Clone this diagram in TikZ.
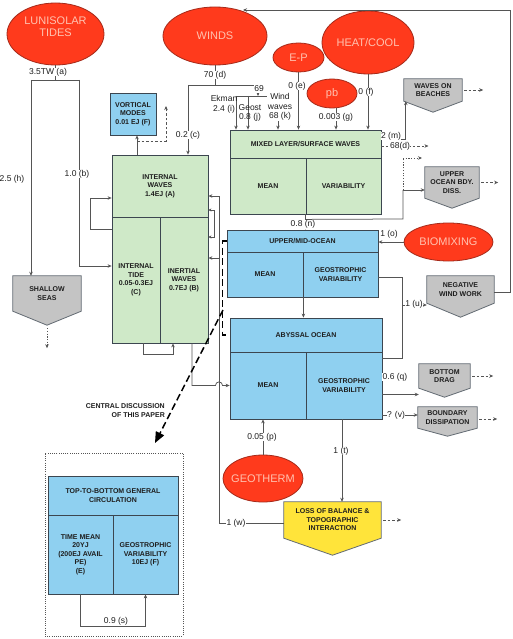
\documentclass[tikz,border=0pt]{standalone}
\usepackage{fontspec}
\setmainfont{Liberation Sans}
\usetikzlibrary{shapes.geometric,arrows.meta,backgrounds,calc}
\definecolor{redfill}{HTML}{FF3A1C}
\definecolor{redline}{HTML}{A52A1A}
\definecolor{redtext}{HTML}{FFC2B0}
\definecolor{greenfill}{HTML}{CFE9C8}
\definecolor{bluefill}{HTML}{8FD0F0}
\definecolor{grayfill}{HTML}{C4C4C4}
\definecolor{yellowfill}{HTML}{FFE43A}
\definecolor{boxline}{HTML}{3C4650}
\definecolor{lc}{HTML}{555555}
\definecolor{tc}{HTML}{1E1E1E}
\newcommand\lblfont{\fontsize{8.5}{9.5}\selectfont}
\newcommand\boxfont{\fontsize{7}{8.5}\selectfont\bfseries}
\newcommand\ellfont{\fontsize{11}{12}\selectfont}
\begin{document}
\begin{tikzpicture}[x=1pt,y=-1pt,
 sz/.style 2 args={minimum width=#1pt, minimum height=#2pt},
 conn/.style={draw=lc, line width=0.75pt},
 arr/.style={conn, -{Stealth[length=4pt,width=3.5pt]}},
 dasharr/.style={draw=lc, line width=0.75pt, dash pattern=on 2.5pt off 2pt, -{Stealth[length=4pt,width=3.5pt]}},
 dotarr/.style={draw=lc, line width=0.75pt, dash pattern=on 1.2pt off 1.5pt, -{Stealth[length=4pt,width=3.5pt]}},
 dotline/.style={draw=lc, line width=0.75pt, dash pattern=on 1.2pt off 1.5pt},
 thickdash/.style={draw=black, line width=1.5pt, dash pattern=on 7pt off 3.5pt},
 lbl/.style={font=\lblfont, text=tc, inner sep=0.5pt, align=center},
 lblw/.style={lbl, fill=white},
 redell/.style={ellipse, draw=redline, fill=redfill, line width=0.8pt, inner sep=0},
 elltext/.style={text=redtext, font=\ellfont, align=center, inner sep=0},
 gbox/.style={rectangle, draw=boxline, fill=greenfill, line width=0.8pt, inner sep=0, font=\boxfont, text=tc, align=center},
 bbox/.style={gbox, fill=bluefill},
 pent/.style={rectangle, inner sep=0, font=\boxfont, text=tc, align=center},
 pentline/.style={draw=boxline!80, line width=0.8pt}
]
\useasboundingbox (0,0) rectangle (513,639);

% ---------- ellipses ----------
\node[redell, sz={97}{62}] (tides) at (55.5,34) {};
\node[elltext] (tidest) at (55.5,27) {LUNISOLAR\\TIDES};
\node[redell, sz={104}{58}] (winds) at (215,36) {};
\node[elltext] (windst) at (winds.center) {WINDS};
\node[redell, sz={51}{29}] (ep) at (298.5,57.5) {};
\node[elltext] (ept) at (ep.center) {E-P};
\node[redell, sz={92}{63}] (heat) at (368,42.5) {};
\node[elltext] (heatt) at (heat.center) {HEAT/COOL};
\node[redell, sz={50}{29}] (pb) at (332,93.5) {};
\node[elltext] (pbt) at (pb.center) {pb};
\node[redell, sz={89}{38}] (biomix) at (448.5,242) {};
\node[elltext] (biomixt) at (biomix.center) {BIOMIXING};
\node[redell, sz={80}{47}] (geo) at (263,478.5) {};
\node[elltext] (geot) at (geo.center) {GEOTHERM};

% ---------- boxes ----------
\node[bbox, sz={46}{42}] (vort) at (133,114) {VORTICAL\\MODES\\0.01 EJ (F)};

\node[gbox, sz={96}{62}] (iwh) at (160,186) {INTERNAL\\WAVES\\1.4EJ (A)};
\node[gbox, sz={48}{126}] (itide) at (136,280) {INTERNAL\\TIDE\\0.05-0.3EJ\\(C)};
\node[gbox, sz={48}{126}] (iner) at (184,280) {INERTIAL\\WAVES\\0.7EJ (B)};

\node[gbox, sz={151}{28}] (mlh) at (305.5,144) {MIXED LAYER/SURFACE WAVES};
\node[gbox, sz={76}{56}] (mll) at (268,186) {MEAN};
\node[gbox, sz={75}{56}] (mlr) at (343.5,186) {VARIABILITY};

\node[bbox, sz={151}{22}] (umh) at (302.5,241) {UPPER/MID-OCEAN};
\node[bbox, sz={76}{45}] (uml) at (265,274.5) {MEAN};
\node[bbox, sz={75}{45}] (umr) at (340.5,274.5) {GEOSTROPHIC\\VARIABILITY};

\node[bbox, sz={152}{34}] (abh) at (306,335) {ABYSSAL OCEAN};
\node[bbox, sz={76}{67}] (abl) at (268,385.5) {MEAN};
\node[bbox, sz={76}{67}] (abr) at (344,385.5) {GEOSTROPHIC\\VARIABILITY};

\node[draw=lc, line width=0.6pt, dash pattern=on 1pt off 1.2pt, sz={138}{183}] (focus) at (114,544.5) {};
\node[bbox, sz={130}{39}] (tth) at (113,495.5) {TOP-TO-BOTTOM GENERAL\\CIRCULATION};
\node[bbox, sz={65}{79}] (ttl) at (80.5,554.5) {TIME MEAN\\20YJ\\(200EJ AVAIL\\PE)\\(E)};
\node[bbox, sz={65}{79}] (ttr) at (145.5,554.5) {GEOSTROPHIC\\VARIABILITY\\10EJ (F)};

% ---------- pentagons ----------
\node[pent, sz={68}{35}] (shallow) at (47,293.5) {SHALLOW\\SEAS};
\node[pent, sz={58}{22}] (wob) at (433,90) {WAVES ON\\BEACHES};
\node[pent, sz={54}{31}] (uobd) at (452,182.5) {UPPER\\OCEAN BDY.\\DISS.};
\node[pent, sz={67}{27}] (nww) at (460.5,289.5) {NEGATIVE\\WIND WORK};
\node[pent, sz={51}{24}] (bdrag) at (444.5,376) {BOTTOM\\DRAG};
\node[pent, sz={59}{21}] (bdiss) at (447.5,417.5) {BOUNDARY\\DISSIPATION};
\node[pent, sz={97}{36}] (loss) at (332.5,520) {LOSS OF BALANCE \&\\TOPOGRAPHIC\\INTERACTION};

\begin{scope}[on background layer]
\fill[white] (0,0) rectangle (513,639);
\foreach \nm/\dd in {shallow/14,wob/11,uobd/10,nww/14,bdrag/9,bdiss/8}
  \draw[pentline, fill=grayfill] (\nm.north west) -- (\nm.north east) -- (\nm.south east) -- ([yshift=-\dd pt]\nm.south) -- (\nm.south west) -- cycle;
\draw[pentline, fill=yellowfill] (loss.north west) -- (loss.north east) -- (loss.south east) -- ([yshift=-17pt]loss.south) -- (loss.south west) -- cycle;
\end{scope}

% ---------- connectors ----------
% tides
\coordinate (ta) at (55.5,80);
\coordinate (tl) at (31,80);
\coordinate (tr) at (79,80);
\draw[conn] (tides) -- (ta);
\draw[conn] (tl) -- (tr);
\draw[arr] (tl) -- (tl |- shallow.north);
\draw[arr] (tr) |- ([yshift=14pt]itide.west);
\draw[dotarr] ([yshift=-17pt]shallow.south) -- ++(0,20);

% winds
\coordinate (wd) at (215,85);
\coordinate (wl) at (188,85);
\coordinate (wr) at (258,85);
\coordinate (wsplit) at (258,96);
\coordinate (ek) at (236,96);
\coordinate (ge) at (248,96);
\coordinate (ww) at (278,96);
\draw[conn] (winds) -- (wd);
\draw[conn] (wl) -- (wr);
\draw[arr] (wl) -- (wl |- iwh.north);
\draw[arr] (wr) -- (wsplit);
\draw[conn] (ek) -- (ww);
\draw[arr] (ek) -- (ek |- mlh.north);
\draw[arr] (ge) -- (ge |- mlh.north);
\draw[arr] (ww) -- (ww |- mlh.north);
\draw[arr] (ep) -- (ep |- mlh.north);
\draw[arr] ([xshift=4pt]pb.south) -- ([xshift=4pt]pb.south |- mlh.north);
\draw[arr] (heat) -- (heat |- mlh.north);

% vortical modes
\coordinate (vd) at (137,141);
\coordinate (vdt) at (166,106);
\draw[arr] ([xshift=-23pt]iwh.north) -- ([xshift=-23pt]iwh.north |- vort.south);
\draw[dasharr] (vd) -| (vdt);

% internal wave loops
\draw[arr] ([yshift=-13pt]itide.north west) -- ++(-21,0) |- ([yshift=-12pt]iwh.west);
\draw[arr] ([xshift=7pt]itide.south) -- ++(0,11) -| ([xshift=-11pt]iner.south);
\draw[conn, {Stealth[length=3pt,width=3pt]}-{Stealth[length=3pt,width=3pt]}] ([yshift=-24pt]iwh.east) -- ++(6,0) |- ([yshift=43pt]iner.east);

% mixed layer outputs
\draw[arr] ([yshift=5pt]mlh.east) -| ([xshift=2pt]wob.south west);
\draw[dasharr] ([yshift=-2pt]mlh.east) -- ++(47,0);
\coordinate (jn) at (403,219);
\coordinate (ju) at (403,190);
\coordinate (dtop) at (403,158);
\draw[arr] (mlr.south west) -- (mlr.south west |- umh.north);
\draw[conn] ([yshift=-5pt]mlr.south west) -- (jn) -- (ju);
\draw[arr] (ju) -- (ju -| uobd.west);
\draw[dotline] (ju) -- (dtop);
\draw[dotarr] (dtop) -- ++(19,0);

% pentagon dashed outputs
\draw[dasharr] ([xshift=2pt]wob.east) -- ++(19,0);
\draw[dasharr] ([xshift=2pt]uobd.east) -- ++(17,0);
\draw[dasharr] ([xshift=2pt]bdrag.east) -- ++(21,0);
\draw[dasharr] ([xshift=2pt,yshift=-1.5pt]bdiss.east) -- ++(18,0);
\draw[dasharr] ([xshift=2pt]loss.east) -- ++(18,0);

% biomixing
\draw[arr] (biomix) -- (biomix -| umh.east);

% upper/mid -> abyssal
\draw[arr] (uml.south east) -- (uml.south east |- abh.north);

% upper/mid geostrophic -> negative wind work
\coordinate (ur) at (402,277);
\coordinate (urb) at (402,358);
\coordinate (urm) at (402,305);
\draw[conn] ([yshift=-2.5pt]umr.east) -- (ur) -- (urb) -- (urb -| abh.east);
\draw[arr] (urm) -- (urm -| nww.west);

% negative wind work -> winds
\coordinate (rc1) at (510,292);
\coordinate (rc2) at (510,10);
\coordinate (wtip) at (243,10);
\draw[arr] ([yshift=-2.5pt]nww.east) -- (rc1) -- (rc2) -- (wtip);

% abyssal outputs
\draw[arr] ([yshift=-9pt]abr.east) -- ([yshift=-9pt]abr.east -| bdrag.west);
\draw[arr] ([yshift=-29.5pt]abr.east) -- ([yshift=-29.5pt]abr.east -| bdiss.west);
\draw[arr] ([xshift=-2pt]abr.south) -- ([xshift=-2pt]abr.south |- loss.north);
\draw[arr] (geo) -- (geo |- abl.south);

% loss -> internal waves
\coordinate (wv) at (219,523);
\coordinate (wtop) at (219,196);
\coordinate (wmid) at (219,258);
\draw[conn] ([yshift=-3pt]loss.west) -- (wv) -- (wtop);
\draw[arr] (wtop) -- (wtop -| iwh.east);
\draw[arr] (wmid) -- (wmid -| iner.east);

% internal waves -> abyssal mean (with hop)
\draw[arr] ([xshift=8pt]iner.south) -- ++(0,42) -- ++(23.5,0) arc[start angle=180, end angle=360, radius=3.5] -- (abl.west);

% central discussion
\draw[thickdash] (umh.west) -- ++(-4,0) |- (abh.west);
\coordinate (cd) at (223,310);
\coordinate (cdend) at (155,443);
\draw[thickdash, -{Triangle[length=11pt,width=9pt]}] (cd) -- (cdend);
\node[font=\boxfont, text=tc, align=right, anchor=east, inner sep=0] (cdl) at (165,410.5) {CENTRAL DISCUSSION\\OF THIS PAPER};

% top-to-bottom loop
\draw[arr] (ttl.south) -- ++(0,32) -| (ttr.south);

% ---------- labels ----------
\node[lblw] (la) at (48,72) {3.5TW (a)};
\node[lbl] (lh) at (12,179) {2.5 (h)};
\node[lblw] (lb) at (77,174) {1.0 (b)};
\node[lblw] (ld) at (215,75) {70 (d)};
\node[lblw] (lc) at (188,135) {0.2 (c)};
\node[lblw] (l69) at (259,89) {69};
\node[lbl] (li) at (224,104.5) {Ekman\\2.4 (i)};
\node[lbl] (lj) at (250,113) {Geost\\0.8 (j)};
\node[lblw] (lk) at (280,107) {Wind\\waves\\68 (k)};
\node[lblw] (le) at (297,86) {0 (e)};
\node[lblw] (lg) at (336,117) {0.003 (g)};
\node[lblw] (lf) at (366,92) {0 (f)};
\node[lblw] (lm) at (391,136) {2 (m)};
\node[lblw] (ld2) at (400,146) {68(d)};
\node[lblw] (ln) at (303,224.5) {0.8 (n)};
\node[lbl] (lo) at (389,234) {1 (o)};
\node[lblw] (lu) at (414,304) {1 (u)};
\node[lblw] (lq) at (395,377) {0.6 (q)};
\node[lblw] (lv) at (396,415) {? (v)};
\node[lblw] (lt) at (341,451) {1 (t)};
\node[lblw] (lp) at (262,437) {0.05 (p)};
\node[lblw] (lw) at (236,523) {1 (w)};
\node[lbl] (ls) at (116,621) {0.9 (s)};
\end{tikzpicture}
\end{document}
